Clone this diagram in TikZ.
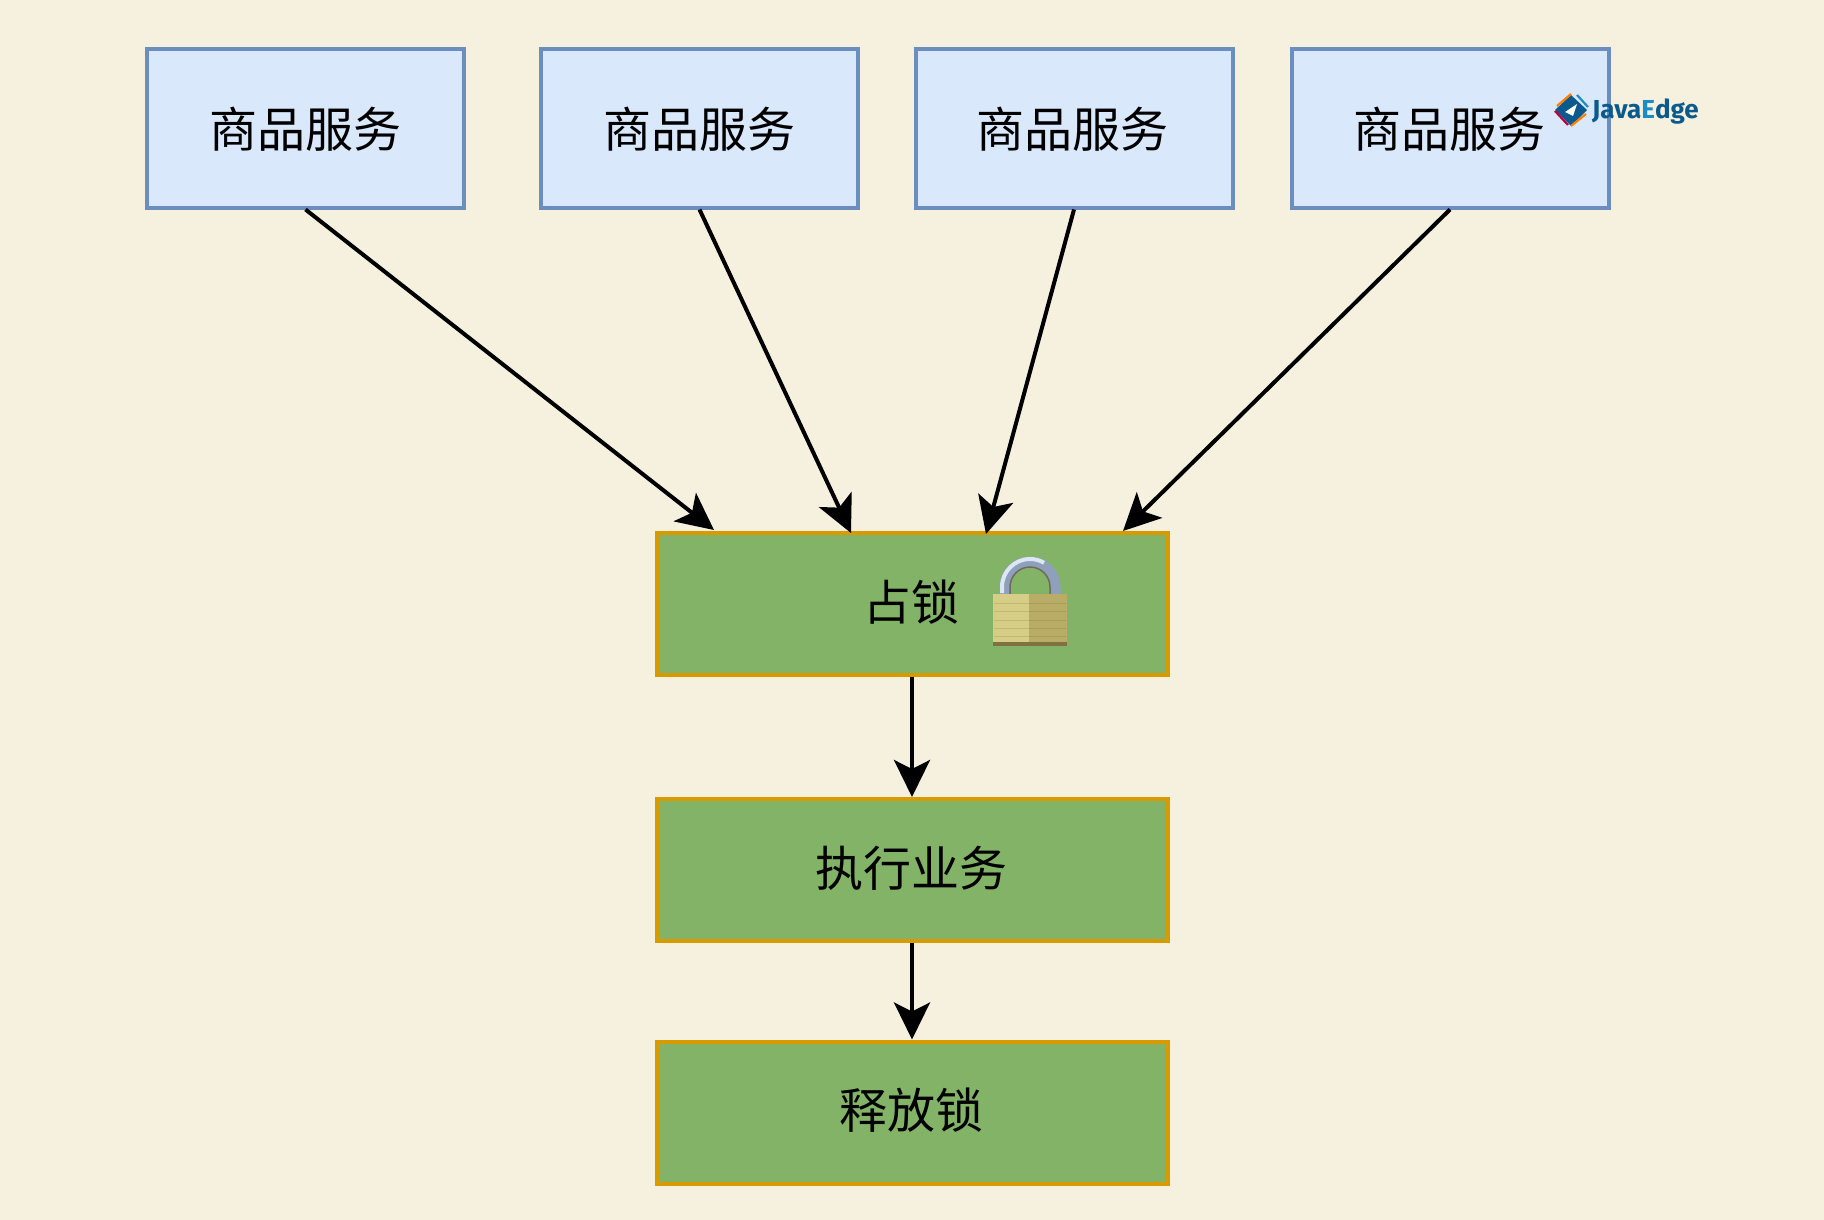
\documentclass[tikz,border=0pt]{standalone}
\usepackage{fontspec}
\usetikzlibrary{arrows.meta}
\setmainfont{Noto Sans CJK SC}
\newfontfamily\logofont{Fira Sans}
\definecolor{bgc}{HTML}{F6F1DE}
\definecolor{blueF}{HTML}{DAE8FC}
\definecolor{blueD}{HTML}{6C8EBF}
\definecolor{greenF}{HTML}{82B366}
\definecolor{greenD}{HTML}{D79B00}
\definecolor{logoD}{HTML}{0B5A8E}
\definecolor{logoL}{HTML}{1B8CC8}
\definecolor{lockA}{HTML}{D6CD86}
\definecolor{lockB}{HTML}{B8AC66}
\definecolor{lockC}{HTML}{7F7140}
\definecolor{lockL}{HTML}{C2B772}
\definecolor{lockLB}{HTML}{A89C58}
\definecolor{shackA}{HTML}{8FA0BC}
\definecolor{shackB}{HTML}{DCE6F4}
\definecolor{shackC}{HTML}{6F6A5C}
\tikzset{
  x=1pt,y=-1pt,
  svc/.style={draw=blueD,fill=blueF,line width=4pt,minimum width=317pt,minimum height=158pt,inner sep=0pt,anchor=north west},
  stepbox/.style={draw=greenD,fill=greenF,line width=4pt,minimum width=511pt,minimum height=142pt,inner sep=0pt,anchor=north west},
  lbl/.style={font=\fontsize{48pt}{54pt}\selectfont,inner sep=0pt,text=black},
  conn/.style={draw=black,line width=4pt,-{Stealth[length=37pt,width=36pt,inset=9pt]}},
}
\begin{document}
\begin{tikzpicture}
\useasboundingbox (0,0) rectangle (1824,1220);
\fill[bgc] (0,0) rectangle (1824,1220);
\node[svc] (s1) at (145,47.5) {};
\node[svc] (s2) at (539,47.5) {};
\node[svc] (s3) at (913.5,47.5) {};
\node[svc] (s4) at (1289.5,47.5) {};
\node[lbl] (s1t) at (305,129) {商品服务};
\node[lbl] (s2t) at (699,129) {商品服务};
\node[lbl] (s3t) at (1072,129) {商品服务};
\node[lbl] (s4t) at (1449,129) {商品服务};
\node[stepbox] (b1) at (654.5,530.5) {};
\node[stepbox] (b2) at (654.5,797) {};
\node[stepbox] (b3) at (654.5,1039.5) {};
\node[lbl] (b1t) at (911,602) {占锁};
\node[lbl] (b2t) at (911,868) {执行业务};
\node[lbl] (b3t) at (911,1110) {释放锁};
\coordinate (t1) at (714,530);
\coordinate (t2) at (851,533);
\coordinate (t3) at (986,534);
\coordinate (t4) at (1123,531);
\draw[conn] (s1.south) -- (t1);
\draw[conn] (s2.south) -- (t2);
\draw[conn] (s3.south) -- (t3);
\draw[conn] (s4.south) -- (t4);
\draw[conn] (b1.south) -- (b2.north);
\draw[conn] (b2.south) -- (b3.north);
% padlock
\draw[line width=10pt,color=shackA] (1004.5,595) -- (1004.5,587) arc[start angle=180,end angle=360,radius=25.5] -- (1055.5,595);
\draw[line width=4pt,color=shackB] (1002,593) -- (1002,587) arc[start angle=180,end angle=300,radius=28];
\draw[line width=1.5pt,color=shackC] (1010,594) -- (1010,587) arc[start angle=180,end angle=360,radius=20] -- (1050,594);
\fill[lockA] (993,594) rectangle (1029,642);
\fill[lockB] (1029,594) rectangle (1067,642);
\foreach \yy in {603,611,620,628,636} {
  \draw[line width=.9pt,lockL] (994,\yy) -- (1029,\yy);
  \draw[line width=.9pt,lockLB] (1029,\yy) -- (1066,\yy);
}
\fill[lockC] (993,642) rectangle (1067,646);
% logo
\fill[logoD] (1571,95) -- (1587,110) -- (1571,126) -- (1555,110) -- cycle;
\draw[line width=2.2pt,orange] (1557,106) -- (1571,94);
\draw[line width=2.2pt,orange] (1571,126) -- (1586,114);
\draw[line width=2.2pt,purple] (1555,111) -- (1568,125);
\draw[line width=2.2pt,logoL] (1577,95) -- (1588,107);
\fill[white] (1565,112) -- (1577,104) -- (1573,116) -- cycle;
\node[inner sep=0pt,anchor=west,font=\logofont\bfseries\fontsize{26pt}{28pt}\selectfont] (logo) at (1592,112) {\textcolor{logoD}{Java}\textcolor{logoL}{E}\textcolor{logoD}{dge}};
\end{tikzpicture}
\end{document}
